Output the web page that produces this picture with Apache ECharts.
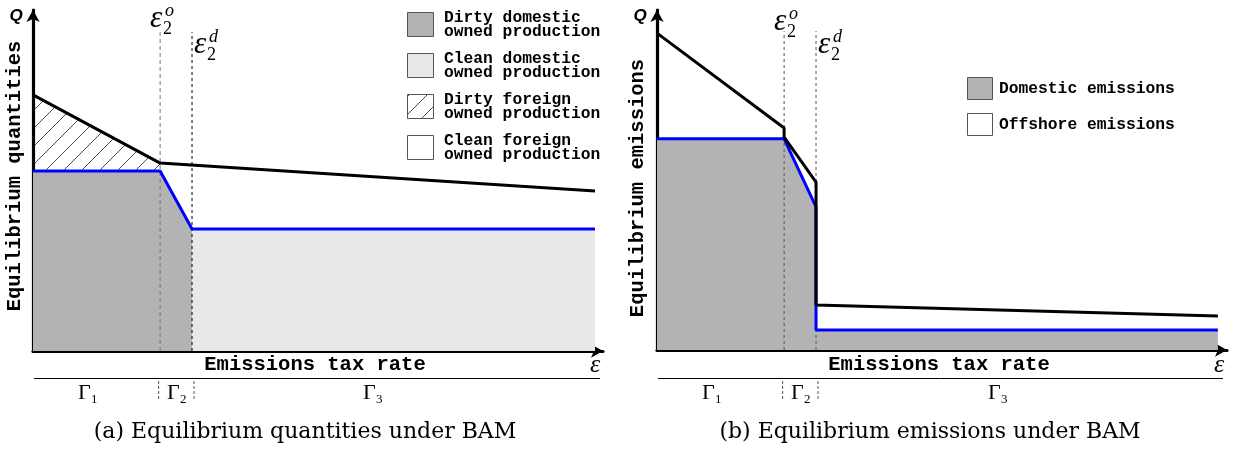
<!DOCTYPE html>
<html>
<head>
<meta charset="utf-8">
<script src="https://cdn.jsdelivr.net/npm/echarts/dist/echarts.min.js"></script>
<style>
html,body{margin:0;padding:0;background:#fff;}
#c{width:1240px;height:452px;}
</style>
</head>
<body>
<div id="c"></div>
<script>
// ---- data (arbitrary units) ----
const epsMarks = [2.23, 2.79];               // ε2^o, ε2^d thresholds
const markTop = 9.35;                         // top of dashed threshold lines
// panel (a): equilibrium quantities
const aTotalX = [0, 2.23, 9.86];
const aTotalY = [7.51, 5.51, 4.69];
const aDomX = [0, 2.23, 2.79, 9.86];
const aDomY = [5.28, 5.28, 3.58, 3.58];
// panel (b): equilibrium emissions
const bTotalX = [0, 2.23, 2.23, 2.79, 2.79, 9.84];
const bTotalY = [9.32, 6.53, 6.26, 4.94, 1.32, 1.00];
const bDomX = [0, 2.23, 2.79, 2.79, 9.84];
const bDomY = [6.21, 6.21, 4.21, 0.59, 0.59];
// texts
const legendA = ['Dirty domestic\nowned production', 'Clean domestic\nowned production',
                 'Dirty foreign\nowned production', 'Clean foreign\nowned production'];
const legendB = ['Domestic emissions', 'Offshore emissions'];
const yNames = ['Equilibrium quantities', 'Equilibrium emissions'];
const xName = 'Emissions tax rate';
const captions = ['(a) Equilibrium quantities under BAM', '(b) Equilibrium emissions under BAM'];

const pts = (xs, ys) => xs.map((x, i) => [x, ys[i]]);
const aTotal = pts(aTotalX, aTotalY), aDom = pts(aDomX, aDomY);
const bTotal = pts(bTotalX, bTotalY), bDom = pts(bDomX, bDomY);

// hatch pattern
const pc = document.createElement('canvas');
pc.width = 18; pc.height = 18;
const ctx = pc.getContext('2d');
ctx.strokeStyle = '#000'; ctx.lineWidth = 0.7;
ctx.beginPath(); ctx.moveTo(0, 18); ctx.lineTo(18, 0);
ctx.moveTo(-2, 2); ctx.lineTo(2, -2); ctx.moveTo(16, 20); ctx.lineTo(20, 16);
ctx.stroke();
const hatch = { image: pc, repeat: 'repeat' };

const DARK = '#b3b3b3', LIGHT = '#e8e8e8', BLUE = '#0000ff';
const MONO = 'bold 16.3px "Liberation Mono", monospace';
const MONO_BIG = 'bold 20.5px "Liberation Mono", monospace';

function axes(gi) {
  return {
    gridIndex: gi, type: 'value', min: 0, max: 10,
    axisLine: { show: true, onZero: false, symbol: ['none', 'arrow'], symbolSize: [10, 12],
      lineStyle: { color: '#000', width: 3.2 } },
    axisTick: { show: false }, axisLabel: { show: false }, splitLine: { show: false }
  };
}

const chart = echarts.init(document.getElementById('c'), null, { renderer: 'canvas' });
const base = { type: 'line', showSymbol: false, symbol: 'none', animation: false, silent: true };

const series = [
  // panel a fills
  Object.assign({}, base, { xAxisIndex: 0, yAxisIndex: 0, data: aTotal.filter(p => p[0] <= epsMarks[0]),
    lineStyle: { width: 0 }, areaStyle: { color: hatch, opacity: 1 } }),
  Object.assign({}, base, { xAxisIndex: 0, yAxisIndex: 0, data: aDom.filter(p => p[0] <= epsMarks[1]),
    lineStyle: { width: 0 }, areaStyle: { color: DARK, opacity: 1 } }),
  Object.assign({}, base, { xAxisIndex: 0, yAxisIndex: 0, data: aDom.filter(p => p[0] >= epsMarks[1]),
    lineStyle: { width: 0 }, areaStyle: { color: LIGHT, opacity: 1 } }),
  // panel a threshold lines
  Object.assign({}, base, { xAxisIndex: 0, yAxisIndex: 0, data: [[epsMarks[0], 0], [epsMarks[0], markTop]],
    lineStyle: { color: '#777', width: 1, type: [4, 3] } }),
  Object.assign({}, base, { xAxisIndex: 0, yAxisIndex: 0, data: [[epsMarks[1], 0], [epsMarks[1], markTop]],
    lineStyle: { color: '#000', width: 1, type: [3, 3] } }),
  // panel a lines
  Object.assign({}, base, { xAxisIndex: 0, yAxisIndex: 0, data: aDom, lineStyle: { color: BLUE, width: 3 } }),
  Object.assign({}, base, { xAxisIndex: 0, yAxisIndex: 0, data: aTotal, lineStyle: { color: '#000', width: 3 } }),
  // panel b fill
  Object.assign({}, base, { xAxisIndex: 1, yAxisIndex: 1, data: bDom,
    lineStyle: { width: 0 }, areaStyle: { color: DARK, opacity: 1 } }),
  Object.assign({}, base, { xAxisIndex: 1, yAxisIndex: 1, data: [[epsMarks[0], 0], [epsMarks[0], markTop + 0.03]],
    lineStyle: { color: '#555', width: 1, type: [3, 3] } }),
  Object.assign({}, base, { xAxisIndex: 1, yAxisIndex: 1, data: [[epsMarks[1], 0], [epsMarks[1], markTop + 0.03]],
    lineStyle: { color: '#555', width: 1, type: [3, 3] } }),
  Object.assign({}, base, { xAxisIndex: 1, yAxisIndex: 1, data: bDom, lineStyle: { color: BLUE, width: 3 } }),
  Object.assign({}, base, { xAxisIndex: 1, yAxisIndex: 1, data: bTotal, lineStyle: { color: '#000', width: 3 } })
];

chart.setOption({
  backgroundColor: '#fff',
  animation: false,
  grid: [
    { left: 33, top: 10, width: 570, height: 341 },
    { left: 657, top: 10, width: 570, height: 340 }
  ],
  xAxis: [axes(0), axes(1)],
  yAxis: [axes(0), axes(1)],
  series: series
});

// ---- annotations ----
const g = [];
function txt(x, y, text, font, align, valign, extra) {
  g.push(Object.assign({ type: 'text', x: x, y: y, silent: true, z: 100,
    style: { text: text, font: font, fill: '#000', textAlign: align || 'center', textVerticalAlign: valign || 'middle' } }, extra || {}));
}
function line(x1, y1, x2, y2, color, width, dash) {
  g.push({ type: 'line', silent: true, z: 100, shape: { x1, y1, x2, y2 },
    style: { stroke: color, lineWidth: width, lineDash: dash || null } });
}
function rect(x, y, w, h, fill) {
  g.push({ type: 'rect', silent: true, z: 100, shape: { x, y, width: w, height: h },
    style: { fill: fill, stroke: '#555', lineWidth: 1 } });
}
function epsLabel(x, y, sup) {
  txt(x, y, 'ε', 'italic 31px "Liberation Serif", serif', 'left', 'middle');
  txt(x + 13, y + 10, '2', '18px "Liberation Serif", serif', 'left', 'middle');
  txt(x + 15, y - 8, sup, 'italic 18px "Liberation Serif", serif', 'left', 'middle');
}
function gamma(x, y, n) {
  txt(x, y, 'Γ', '22px "Liberation Serif", serif', 'left', 'middle');
  txt(x + 13, y + 7, String(n), '13px "Liberation Serif", serif', 'left', 'middle');
}

const panels = [
  { gi: 0, yName: yNames[0], yLabelX: 15, yLabelY: 176, xLabelX: 315, epsEnd: 595, lineL: 34, lineR: 600,
    g1: 78, g3: 363, q: 16, cap: 305, eo: [150, 19], ed: [194, 45] },
  { gi: 1, yName: yNames[1], yLabelX: 638, yLabelY: 188, xLabelX: 939, epsEnd: 1219, lineL: 658, lineR: 1223,
    g1: 702, g3: 988, q: 640, cap: 930, eo: [774, 22], ed: [818, 45] }
];

panels.forEach((p, i) => {
  const m0 = chart.convertToPixel({ gridIndex: p.gi }, [epsMarks[0], 0]);
  const m1 = chart.convertToPixel({ gridIndex: p.gi }, [epsMarks[1], 0]);
  txt(p.q, 16, 'Q', 'bold italic 17px "Liberation Sans", sans-serif');
  txt(p.yLabelX, p.yLabelY, p.yName, MONO_BIG, 'center', 'middle', { rotation: Math.PI / 2 });
  txt(p.xLabelX, 365, xName, MONO_BIG);
  txt(p.epsEnd, 365, 'ε', 'italic 26px "Liberation Serif", serif');
  line(p.lineL, 378.5, p.lineR, 378.5, '#000', 1);
  line(m0[0] - 1.5, 381, m0[0] - 1.5, 399, '#555', 1, [3, 2]);
  line(m1[0] + 2, 381, m1[0] + 2, 399, '#555', 1, [3, 2]);
  gamma(p.g1, 393, 1);
  gamma(m0[0] + 7, 393, 2);
  gamma(p.g3, 393, 3);
  txt(p.cap, 432, captions[i], '22px "DejaVu Serif", serif');
  epsLabel(p.eo[0], p.eo[1], 'o');
  epsLabel(p.ed[0], p.ed[1], 'd');
});

// legend panel a
const fillsA = [DARK, LIGHT, hatch, '#fff'];
legendA.forEach((t, i) => {
  const y = 12 + i * 41;
  rect(407.5, y + 0.5, 26, 24, fillsA[i]);
  txt(444, y + 12.5, t, MONO, 'left', 'middle', { style: { text: t, font: MONO, fill: '#000', textAlign: 'left', textVerticalAlign: 'middle', lineHeight: 14 } });
});
// legend panel b
const fillsB = [DARK, '#fff'];
legendB.forEach((t, i) => {
  const y = 77 + i * 36;
  rect(967.5, y + 0.5, 25, 22, fillsB[i]);
  txt(999, y + 11.5, t, MONO, 'left', 'middle');
});

chart.setOption({ graphic: { elements: g } });
</script>
</body>
</html>
